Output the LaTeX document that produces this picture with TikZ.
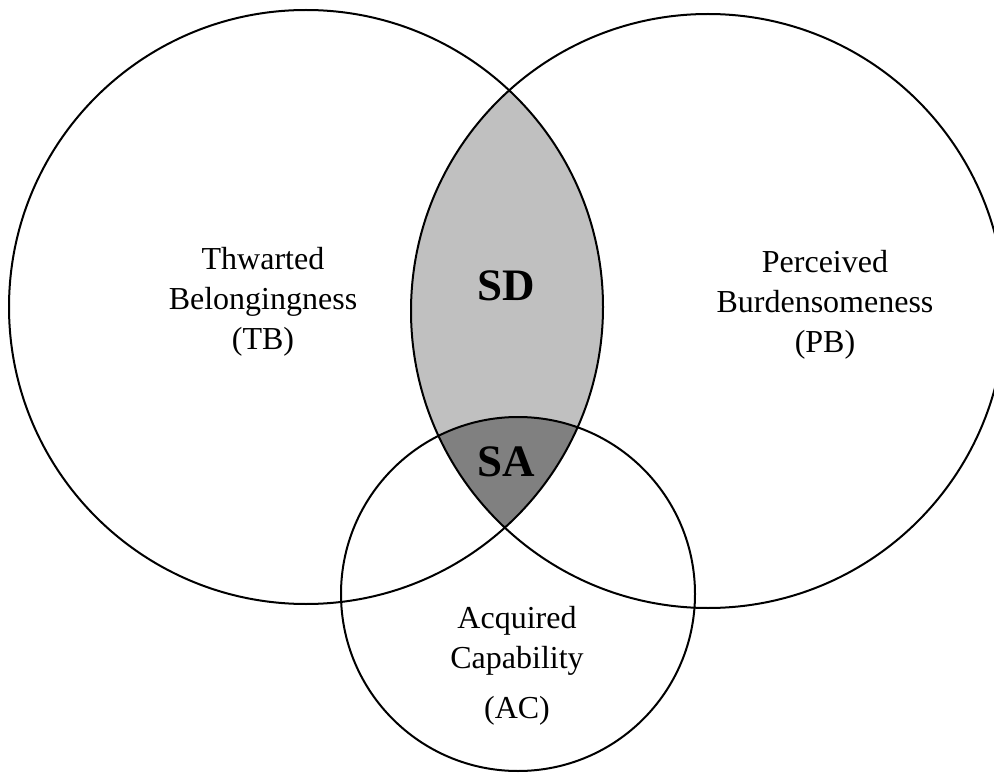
\documentclass[tikz,border=0pt]{standalone}
\usepackage{fontspec}
\setmainfont{Liberation Serif}
\definecolor{sdgray}{HTML}{C0C0C0}
\definecolor{sagray}{HTML}{808080}
\begin{document}
\begin{tikzpicture}[x=1pt,y=-1pt,
  ring/.style={circle,draw=black,line width=2pt,inner sep=0pt},
  lbl/.style={align=center,font=\fontsize{32}{40}\selectfont,inner sep=0pt},
  zone/.style={font=\fontsize{45}{50}\selectfont\bfseries,inner sep=0pt}]
\clip (0,0) rectangle (994,778);
% fills
\begin{scope}
  \clip (306,307) circle (297pt);
  \fill[sdgray] (708,311) circle (297pt);
\end{scope}
\begin{scope}
  \clip (306,307) circle (297pt);
  \clip (708,311) circle (297pt);
  \fill[sagray] (518,594) circle (177pt);
\end{scope}
% circles
\node[ring,minimum size=594pt] (tb) at (306,307) {};
\node[ring,minimum size=594pt] (pb) at (708,311) {};
\node[ring,minimum size=354pt] (ac) at (518,594) {};
% labels
\node[lbl] (tbl) at (263,302) {Thwarted\\Belongingness\\(TB)};
\node[lbl] (pbl) at (825,305) {Perceived\\Burdensomeness\\(PB)};
\node[lbl] (acl) at (517,666) {Acquired\\Capability\\[10pt](AC)};
\node[zone] (sd) at (506,286) {SD};
\node[zone] (sa) at (506,462) {SA};
\end{tikzpicture}
\end{document}
